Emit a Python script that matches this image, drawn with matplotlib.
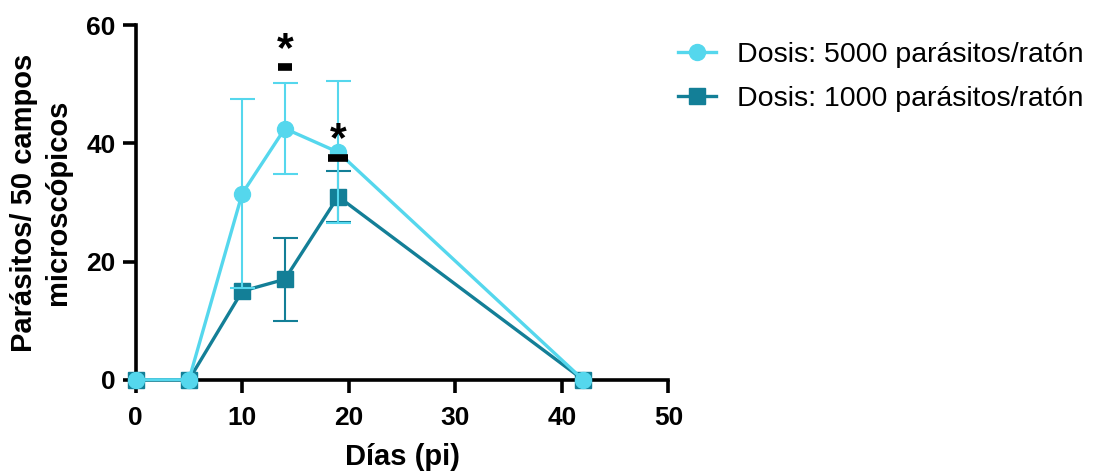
import numpy as np
import matplotlib.pyplot as plt
from matplotlib.lines import Line2D

plt.rcParams['font.family'] = ['Liberation Sans', 'DejaVu Sans']

# --- data (nan = no visible error bar) ---
dias = [0, 5, 10, 14, 19, 42]
dosis_5000 = [0, 0, 31.5, 42.5, 38.5, 0]
sd_5000 = [np.nan, np.nan, 16.0, 7.7, 12.0, np.nan]
dosis_1000 = [0, 0, 15.0, 17.0, 31.0, 0]
sd_1000 = [np.nan, np.nan, np.nan, 7.0, 4.3, np.nan]

# significance marks
sig_x = [14, 19]
sig_star_y = [55.85, 40.6]
sig_dash_y = [52.96, 37.6]
sig_dash_w = [10, 14.5]

c_light = '#55D7ED'
c_dark = '#137F97'

fig = plt.figure(figsize=(10.94, 4.73), dpi=100)
ax = fig.add_axes([0.124, 0.197, 0.487, 0.75])

ax.errorbar(dias, dosis_1000, yerr=sd_1000, color=c_dark, marker='s', markersize=11,
            linewidth=2.4, elinewidth=1.5, capsize=9, capthick=1.5,
            clip_on=False, zorder=3)
ax.errorbar(dias, dosis_5000, yerr=sd_5000, color=c_light, marker='o', markersize=11.5,
            linewidth=2.4, elinewidth=1.5, capsize=9, capthick=1.5,
            clip_on=False, zorder=4)

for x, ys, yd, w in zip(sig_x, sig_star_y, sig_dash_y, sig_dash_w):
    ax.text(x, ys, '*', ha='center', va='center', fontsize=31, fontweight='bold', zorder=5)
    ax.plot([x], [yd], marker='_', markersize=w, mew=5.5, color='black', zorder=5)

ax.set_xlim(0, 50)
ax.set_ylim(0, 60)
ax.set_xticks(np.arange(0, 51, 10))
ax.set_yticks(np.arange(0, 61, 20))
for s in ['top', 'right']:
    ax.spines[s].set_visible(False)
for s in ['left', 'bottom']:
    ax.spines[s].set_linewidth(2.6)
ax.tick_params(width=2.6, length=9.5, labelsize=19, direction='out')
ax.tick_params(axis='x', pad=9)
ax.tick_params(axis='y', pad=5)
for lab in ax.get_xticklabels() + ax.get_yticklabels():
    lab.set_fontweight('bold')

ax.set_xlabel('Días (pi)', fontsize=21, fontweight='bold', labelpad=10)
ax.set_ylabel('Parásitos/ 50 campos\nmicroscópicos', fontsize=21, fontweight='bold',
              linespacing=1.3, labelpad=10)

handles = [Line2D([], [], color=c_light, marker='o', markersize=11.5, linewidth=2.4),
           Line2D([], [], color=c_dark, marker='s', markersize=11, linewidth=2.4)]
labels = ['Dosis: 5000 parásitos/ratón', 'Dosis: 1000 parásitos/ratón']
fig.legend(handles, labels, loc='upper left', bbox_to_anchor=(0.596, 0.966), frameon=False,
           fontsize=20.5, handlelength=1.35, handletextpad=0.75, labelspacing=0.64)

plt.savefig('out.png', dpi=100)
